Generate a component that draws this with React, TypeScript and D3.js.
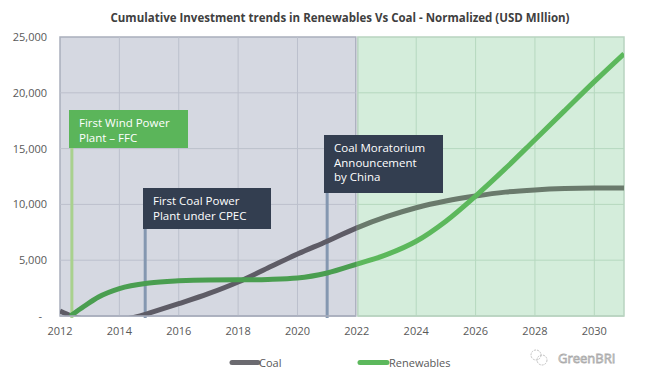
import React from "react";
import * as d3 from "d3";

const coalYears = [2012, 2012.4, 2012.8, 2013.5, 2014.2, 2014.7, 2015, 2016, 2017, 2018, 2019, 2020, 2021, 2022, 2023, 2024, 2025, 2026, 2027, 2028, 2029, 2030, 2031];
const coalValues = [450, 0, -250, -300, -250, 0, 250, 1100, 2000, 3050, 4300, 5550, 6700, 7900, 8900, 9700, 10300, 10750, 11100, 11300, 11420, 11470, 11480];

const renewYears = [2012.35, 2012.8, 2013.3, 2014, 2015, 2016, 2017, 2018, 2019, 2020, 2021, 2022, 2023, 2024, 2025, 2026, 2027, 2028, 2029, 2030, 2031];
const renewValues = [0, 850, 1700, 2450, 2950, 3150, 3230, 3240, 3280, 3400, 3850, 4650, 5500, 6700, 8500, 10750, 13200, 15800, 18400, 21000, 23500];

const xTicks = [2012, 2014, 2016, 2018, 2020, 2022, 2024, 2026, 2028, 2030];
const yTicks = [0, 5000, 10000, 15000, 20000, 25000];

const splitYear = 2022;

const annotations = [
  { year: 2012.4, lines: ["First Wind Power", "Plant \u2013 FFC"], top: 110, left: 69, width: 119, height: 38, fill: "#5bb55a", stem: "#a9d18e" },
  { year: 2014.87, lines: ["First Coal Power", "Plant under CPEC"], top: 188, left: 143, width: 128, height: 41, fill: "#333e50", stem: "#8497b0" },
  { year: 2021.0, lines: ["Coal Moratorium", "Announcement", "by China"], top: 135, left: 324, width: 119, height: 58, fill: "#333e50", stem: "#8497b0" },
];

const FONT = "'Open Sans', 'DejaVu Sans', sans-serif";

export default function App() {
  const W = 648, H = 384;
  const left = 60, right = 624, top = 37, bottom = 316;
  const x = d3.scaleLinear().domain([2012, 2031]).range([left, right]);
  const y = d3.scaleLinear().domain([0, 25000]).range([bottom, top]);
  const xs = x(splitYear);

  const line = d3.line<[number, number]>().x(d => x(d[0])).y(d => y(d[1])).curve(d3.curveMonotoneX);
  const coalPath = line(coalYears.map((yr, i) => [yr, coalValues[i]] as [number, number])) || "";
  const renewPath = line(renewYears.map((yr, i) => [yr, renewValues[i]] as [number, number])) || "";

  const fmt = (v: number) => (v === 0 ? "-" : d3.format(",")(v));

  return (
    <svg width={W} height={H} style={{ display: "block", position: "absolute", left: 0, top: 0, background: "#fff" }} fontFamily={FONT}>
      <defs>
        <clipPath id="clipGray"><rect x={left} y={top - 5} width={xs - left} height={bottom - top + 5} /></clipPath>
        <clipPath id="clipGreen"><rect x={xs} y={top - 5} width={right - xs} height={bottom - top + 5} /></clipPath>
      </defs>
      <text x={340} y={22} textAnchor="middle" fontSize={11.5} fontWeight="bold" fill="#404040">
        Cumulative Investment trends in Renewables Vs Coal - Normalized (USD MIllion)
      </text>

      {/* regions */}
      <rect x={left} y={top} width={xs - 1 - left} height={bottom - top} fill="#d5d8e1" stroke="#a9aebc" strokeWidth={1.5} />
      <rect x={xs + 1} y={top} width={right - xs - 1} height={bottom - top} fill="#d4eddb" stroke="#b8d3c0" strokeWidth={1.5} />

      {/* grid */}
      {yTicks.filter(t => t > 0 && t < 25000).map(t => (
        <g key={"gy" + t}>
          <line x1={left} x2={xs - 1} y1={y(t)} y2={y(t)} stroke="#bcc0cc" strokeWidth={1} />
          <line x1={xs + 1} x2={right} y1={y(t)} y2={y(t)} stroke="#b6d8bf" strokeWidth={1} />
        </g>
      ))}
      {xTicks.filter(t => t > 2012 && t !== splitYear).map(t => (
        <line key={"gx" + t} x1={x(t)} x2={x(t)} y1={top} y2={bottom} stroke={t < splitYear ? "#bcc0cc" : "#b6d8bf"} strokeWidth={1} />
      ))}

      {/* annotation stems */}
      {annotations.map((a, i) => (
        <line key={"st" + i} x1={x(a.year)} x2={x(a.year)} y1={a.top + a.height} y2={bottom + 2} stroke={a.stem} strokeWidth={3} />
      ))}

      {/* series */}
      <g clipPath="url(#clipGray)">
        <path d={coalPath} fill="none" stroke="#5e5c66" strokeWidth={5} />
        <path d={renewPath} fill="none" stroke="#4a9e50" strokeWidth={5} />
      </g>
      <g clipPath="url(#clipGreen)">
        <path d={coalPath} fill="none" stroke="#6a7a6c" strokeWidth={5} />
        <path d={renewPath} fill="none" stroke="#5cb85c" strokeWidth={5} />
      </g>
      <line x1={left} x2={xs - 1} y1={bottom} y2={bottom} stroke="#a9aebc" strokeWidth={1.5} />
      <line x1={xs + 1} x2={right} y1={bottom} y2={bottom} stroke="#b8d3c0" strokeWidth={1.5} />

      {/* annotation boxes */}
      {annotations.map((a, i) => (
        <g key={"ab" + i}>
          <rect x={a.left} y={a.top} width={a.width} height={a.height} fill={a.fill} />
          {a.lines.map((ln, j) => (
            <text key={j} x={a.left + 10} y={a.top + 17 + j * 14.5} fontSize={11.5} fill="#ffffff">{ln}</text>
          ))}
        </g>
      ))}

      {/* axes labels */}
      {yTicks.map(t => (
        <text key={"yl" + t} x={t === 0 ? 42 : 47} y={y(t) + 4} textAnchor="end" fontSize={11} fill="#595959">{fmt(t)}</text>
      ))}
      {xTicks.map(t => (
        <text key={"xl" + t} x={x(t)} y={335} textAnchor="middle" fontSize={11} fill="#595959">{t}</text>
      ))}

      {/* legend */}
      <line x1={232} x2={258} y1={362.5} y2={362.5} stroke="#6b6a70" strokeWidth={5} strokeLinecap="round" />
      <text x={259} y={366.5} fontSize={11} fill="#595959">Coal</text>
      <line x1={360} x2={387} y1={362.5} y2={362.5} stroke="#5cb85c" strokeWidth={5} strokeLinecap="round" />
      <text x={389} y={366.5} fontSize={11} fill="#595959">Renewables</text>

      {/* watermark */}
      <g opacity={0.7}>
        <circle cx={536} cy={355} r={5} fill="none" stroke="#aaa" strokeWidth={1} strokeDasharray="2 1" />
        <circle cx={542} cy={360} r={5} fill="none" stroke="#aaa" strokeWidth={1} strokeDasharray="2 1" />
        <text x={558} y={363} fontSize={13} fill="#fff" stroke="#888" strokeWidth={0.8}>GreenBRI</text>
      </g>
    </svg>
  );
}
